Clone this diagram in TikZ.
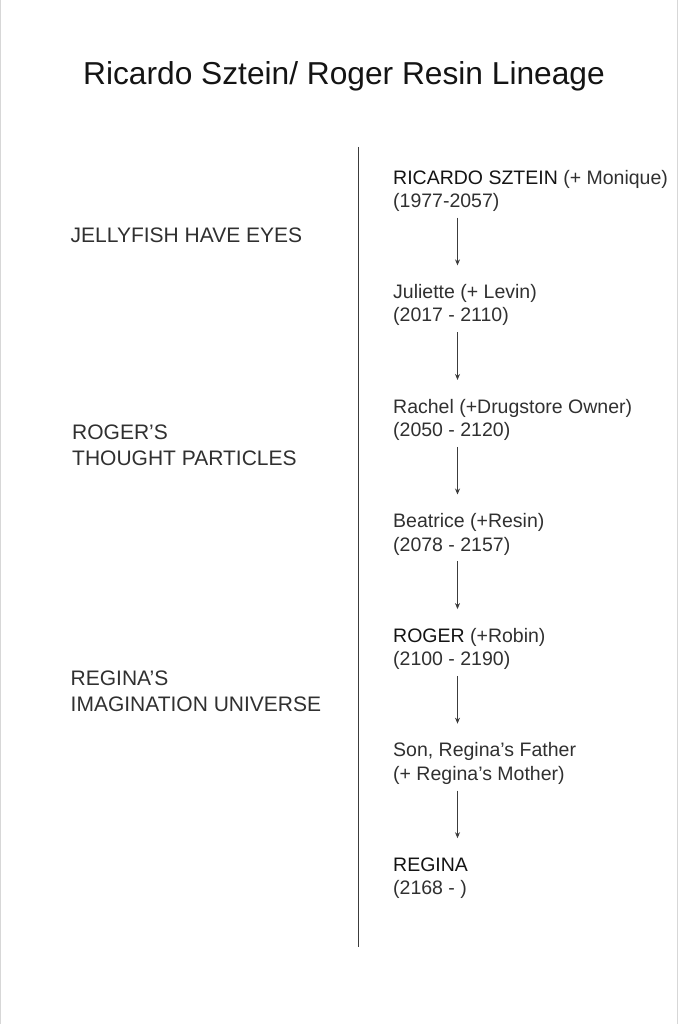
\documentclass[tikz,border=0pt]{standalone}
\usepackage{fontspec}
\setmainfont{Liberation Sans}
\usetikzlibrary{arrows.meta,positioning}
\definecolor{NameBlack}{RGB}{20,20,20}
\definecolor{TextGray} {RGB}{48,48,48}
\definecolor{LineGray} {RGB}{60,60,60}
\definecolor{EdgeGray} {RGB}{215,215,215}
\tikzset{
  %% 人物方框（两行文字）
  pname/.style={inner sep=0pt,align=left,text=TextGray,
                font=\fontsize{19.5}{23.3}\selectfont},
  %% 左侧书名
  bklabel/.style={inner sep=0pt,align=left,text=TextGray,anchor=north west,
                  font=\fontsize{21}{25.5}\selectfont},
  %% 箭头
  lgarr/.style={-{Stealth[length=6pt,width=5pt]},line width=0.8pt,
                color=LineGray,shorten <=6pt,shorten >=19pt},
  tline/.style={line width=1.1pt,color=LineGray},
}
\newcommand{\nm}[1]{{\color{NameBlack}#1}}

\begin{document}
\begin{tikzpicture}[x=1pt,y=-1pt,node distance=72.7pt]
    \useasboundingbox (0,0) rectangle (678,1024);
    %% 页边
    \draw[EdgeGray,line width=1pt] (0.5,0) -- (0.5,1024);
    \draw[EdgeGray,line width=1pt] (677.5,0) -- (677.5,1024);

    %% 标题
    \node[inner sep=0pt,anchor=base,text=NameBlack,
          font=\fontsize{31.7}{36}\selectfont] (title) at (344,85)
          {Ricardo Sztein/ Roger Resin Lineage};

    %% 中间竖线
    \coordinate (tlTop) at (358.5,147);
    \coordinate (tlBot) at (358.5,947);
    \draw[tline] (tlTop) -- (tlBot);

    %% 左侧书名
    \node[bklabel] (jelly)  at (70.5,228)   {JELLYFISH HAVE EYES};
    \node[bklabel] (roger)  at (72,425)     {ROGER’S\\THOUGHT PARTICLES};
    \node[bklabel] (regina) at (70.5,670.7) {REGINA’S\\IMAGINATION UNIVERSE};

    %% 家系（右列）
    \node[pname, anchor=north west] (ric) at (393,169.8)
          {\nm{RICARDO SZTEIN} (+ Monique)\\(1977-2057)};
    \node[pname, below=of ric.south west, anchor=north west] (jul)
          {Juliette (+ Levin)\\(2017 - 2110)};
    \node[pname, below=of jul.south west, anchor=north west] (rac)
          {Rachel (+Drugstore Owner)\\(2050 - 2120)};
    \node[pname, below=of rac.south west, anchor=north west] (bea)
          {Beatrice (+Resin)\\(2078 - 2157)};
    \node[pname, below=of bea.south west, anchor=north west] (rog)
          {\nm{ROGER} (+Robin)\\(2100 - 2190)};
    \node[pname, below=of rog.south west, anchor=north west] (son)
          {Son, Regina’s Father\\(+ Regina’s Mother)};
    \node[pname, below=of son.south west, anchor=north west] (reg)
          {\nm{REGINA}\\(2168 - )};

    %% 家系箭头
    \draw[lgarr] ([xshift=64.5pt]ric.south west) -- ([xshift=64.5pt]jul.north west);
    \draw[lgarr] ([xshift=64.5pt]jul.south west) -- ([xshift=64.5pt]rac.north west);
    \draw[lgarr] ([xshift=64.5pt]rac.south west) -- ([xshift=64.5pt]bea.north west);
    \draw[lgarr] ([xshift=64.5pt]bea.south west) -- ([xshift=64.5pt]rog.north west);
    \draw[lgarr] ([xshift=64.5pt]rog.south west) -- ([xshift=64.5pt]son.north west);
    \draw[lgarr] ([xshift=64.5pt]son.south west) -- ([xshift=64.5pt]reg.north west);
  \end{tikzpicture}
\end{document}
